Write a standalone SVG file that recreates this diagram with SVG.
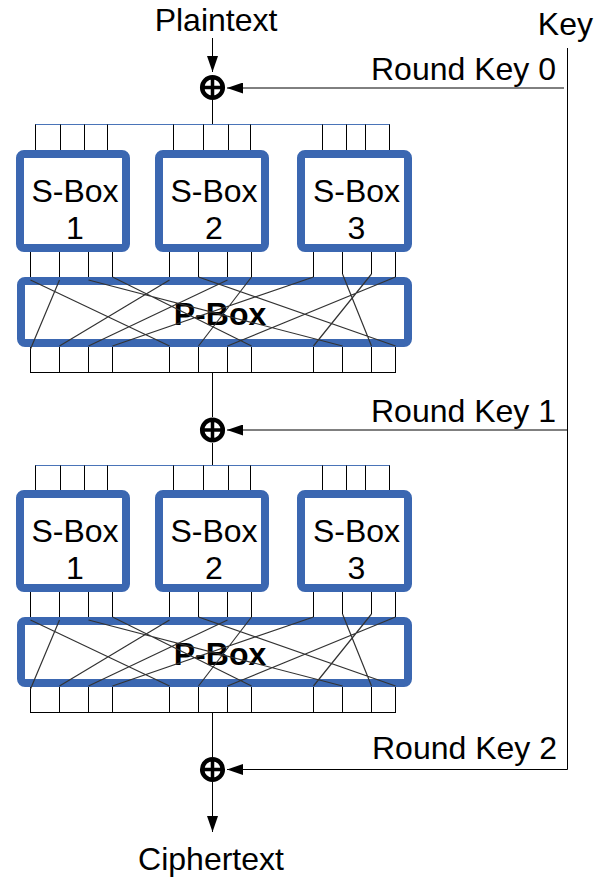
<svg xmlns="http://www.w3.org/2000/svg" width="595" height="878" viewBox="0 0 595 878">
  <style>
    .lbl { font-family: "Liberation Sans", Arial, sans-serif; font-size: 32px; fill: #000; }
    .box { fill: #fff; stroke: #3b67b1; stroke-width: 8; }
    .pb { font-family: "Liberation Sans", Arial, sans-serif; font-size: 32px; font-weight: bold; fill: #000; }
    .w { stroke: #000; stroke-width: 1; fill: none; }
    .bus { stroke: #4a74b8; stroke-width: 1; fill: none; }
    .d { stroke: #333; stroke-width: 1.2; fill: none; }
    .ring { fill: #fff; stroke: #000; stroke-width: 4.5; }
    .cross { stroke: #000; stroke-width: 3.5; }
  </style>
  <defs>
    <marker id="ah" markerUnits="userSpaceOnUse" markerWidth="16" markerHeight="11" refX="16" refY="5.5" orient="auto">
      <path d="M0,0 L16,5.5 L0,11 z" fill="#000"/>
    </marker>
    <g id="xorSym">
      <circle class="ring" cx="0" cy="0" r="10.3"/>
      <path class="cross" d="M-10.5,0 H10.5 M0,-10.5 V10.5"/>
    </g>
  </defs>
  <rect width="595" height="878" fill="#fff"/>

  <!-- wiring -->
  <g id="connectors">
    <!-- input and key feed -->
    <line class="w" x1="212.5" y1="38" x2="212.5" y2="72" marker-end="url(#ah)"/>
    <path class="w" d="M567.5,48 V769.5 H227" marker-end="url(#ah)"/>
    <line class="w" x1="564" y1="88" x2="227" y2="88" marker-end="url(#ah)"/>
    <line class="w" x1="567.5" y1="430" x2="227" y2="430" marker-end="url(#ah)"/>
    <line class="w" x1="212.5" y1="782" x2="212.5" y2="832" marker-end="url(#ah)"/>

    <!-- round 1: xor to fan-out bus -->
    <line class="w" x1="212.5" y1="100" x2="212.5" y2="124.5"/>
    <line class="bus" x1="35" y1="124.5" x2="390" y2="124.5"/>
    <path class="w" d="M35.5,124.5 V151 M60.5,124.5 V151 M84.5,124.5 V151 M107.5,124.5 V151
                       M173.5,124.5 V151 M203.5,124.5 V151 M228.5,124.5 V151 M250.5,124.5 V151
                       M322.5,124.5 V151 M346.5,124.5 V151 M365.5,124.5 V151 M389.5,124.5 V151"/>
    <!-- round 1: s-box outputs into p-box -->
    <path class="w" d="M30.5,252 V278 M59.5,252 V278 M88.5,252 V278 M112.5,252 V278
                       M169.5,252 V278 M198.5,252 V278 M227.5,252 V278 M251.5,252 V278
                       M313.5,252 V278 M342.5,252 V274 M371.5,252 V274 M395.5,252 V278"/>
    <!-- round 1: p-box outputs and collect bus -->
    <path class="w" d="M30.5,346 V372.5 M59.5,346 V372.5 M88.5,346 V372.5 M112.5,346 V372.5
                       M169.5,346 V372.5 M198.5,346 V372.5 M227.5,346 V372.5 M251.5,346 V372.5
                       M313.5,346 V372.5 M342.5,346 V372.5 M371.5,346 V372.5 M395.5,346 V372.5"/>
    <line class="w" x1="30" y1="372.5" x2="396" y2="372.5"/>
    <line class="w" x1="212.5" y1="372.5" x2="212.5" y2="417"/>

    <!-- round 2: xor to fan-out bus -->
    <line class="w" x1="212.5" y1="443" x2="212.5" y2="465.5"/>
    <line class="bus" x1="35" y1="465.5" x2="390" y2="465.5"/>
    <path class="w" d="M35.5,465.5 V491 M60.5,465.5 V491 M84.5,465.5 V491 M107.5,465.5 V491
                       M173.5,465.5 V491 M203.5,465.5 V491 M228.5,465.5 V491 M250.5,465.5 V491
                       M322.5,465.5 V491 M346.5,465.5 V491 M365.5,465.5 V491 M389.5,465.5 V491"/>
    <path class="w" d="M30.5,592 V618 M59.5,592 V618 M88.5,592 V618 M112.5,592 V618
                       M169.5,592 V618 M198.5,592 V618 M227.5,592 V618 M251.5,592 V618
                       M313.5,592 V618 M342.5,592 V614 M371.5,592 V614 M395.5,592 V618"/>
    <path class="w" d="M30.5,686 V712.5 M59.5,686 V712.5 M88.5,686 V712.5 M112.5,686 V712.5
                       M169.5,686 V712.5 M198.5,686 V712.5 M227.5,686 V712.5 M251.5,686 V712.5
                       M313.5,686 V712.5 M342.5,686 V712.5 M371.5,686 V712.5 M395.5,686 V712.5"/>
    <line class="w" x1="30" y1="712.5" x2="396" y2="712.5"/>
    <line class="w" x1="212.5" y1="712.5" x2="212.5" y2="757"/>
  </g>

  <!-- round 1 nodes -->
  <g id="xor0"><use href="#xorSym" x="212.5" y="87.5"/></g>
  <g id="sbox1-r1">
    <rect class="box" x="20" y="154" width="106" height="94" rx="4"/>
    <text class="lbl" x="75" y="201.5" text-anchor="middle">S-Box</text>
    <text class="lbl" x="75" y="238.5" text-anchor="middle">1</text>
  </g>
  <g id="sbox2-r1">
    <rect class="box" x="159" y="154" width="106" height="94" rx="4"/>
    <text class="lbl" x="214" y="201.5" text-anchor="middle">S-Box</text>
    <text class="lbl" x="214" y="238.5" text-anchor="middle">2</text>
  </g>
  <g id="sbox3-r1">
    <rect class="box" x="301" y="154" width="107" height="94" rx="4"/>
    <text class="lbl" x="356.5" y="201.5" text-anchor="middle">S-Box</text>
    <text class="lbl" x="356.5" y="238.5" text-anchor="middle">3</text>
  </g>
  <g id="pbox-r1">
    <rect class="box" x="21" y="281" width="387" height="62" rx="4"/>
    <text class="pb" x="220" y="325" text-anchor="middle">P-Box</text>
    <path class="d" d="M30.5,280 L169.5,346 M59.5,280 L30.5,349 M88.5,280 L342.5,346 M112.5,277 L251.5,346
                       M169.5,280 L59.5,346 M198.5,277 L395.5,346 M227.5,280 L88.5,346 M251.5,277 L198.5,346
                       M313.5,277 L112.5,346 M342.5,274 L371.5,346 M371.5,274 L313.5,346 M395.5,277 L227.5,346"/>
  </g>

  <!-- round 2 nodes -->
  <g id="xor1"><use href="#xorSym" x="212.5" y="430"/></g>
  <g id="sbox1-r2">
    <rect class="box" x="20" y="494" width="106" height="94" rx="4"/>
    <text class="lbl" x="75" y="541.5" text-anchor="middle">S-Box</text>
    <text class="lbl" x="75" y="578.5" text-anchor="middle">1</text>
  </g>
  <g id="sbox2-r2">
    <rect class="box" x="159" y="494" width="106" height="94" rx="4"/>
    <text class="lbl" x="214" y="541.5" text-anchor="middle">S-Box</text>
    <text class="lbl" x="214" y="578.5" text-anchor="middle">2</text>
  </g>
  <g id="sbox3-r2">
    <rect class="box" x="301" y="494" width="107" height="94" rx="4"/>
    <text class="lbl" x="356.5" y="541.5" text-anchor="middle">S-Box</text>
    <text class="lbl" x="356.5" y="578.5" text-anchor="middle">3</text>
  </g>
  <g id="pbox-r2">
    <rect class="box" x="21" y="621" width="387" height="62" rx="4"/>
    <text class="pb" x="220" y="665" text-anchor="middle">P-Box</text>
    <path class="d" d="M30.5,620 L169.5,686 M59.5,620 L30.5,689 M88.5,620 L342.5,686 M112.5,617 L251.5,686
                       M169.5,620 L59.5,686 M198.5,617 L395.5,686 M227.5,620 L88.5,686 M251.5,617 L198.5,686
                       M313.5,617 L112.5,686 M342.5,614 L371.5,686 M371.5,614 L313.5,686 M395.5,617 L227.5,686"/>
  </g>

  <g id="xor2"><use href="#xorSym" x="212.5" y="769.5"/></g>

  <!-- labels -->
  <g id="plaintext"><text class="lbl" x="216" y="31" text-anchor="middle">Plaintext</text></g>
  <g id="key"><text class="lbl" x="593" y="35" text-anchor="end">Key</text></g>
  <g id="roundkey0"><text class="lbl" x="556" y="80" text-anchor="end">Round Key 0</text></g>
  <g id="roundkey1"><text class="lbl" x="556" y="421.5" text-anchor="end">Round Key 1</text></g>
  <g id="roundkey2"><text class="lbl" x="557" y="758.5" text-anchor="end">Round Key 2</text></g>
  <g id="ciphertext"><text class="lbl" x="211" y="870" text-anchor="middle">Ciphertext</text></g>
</svg>
